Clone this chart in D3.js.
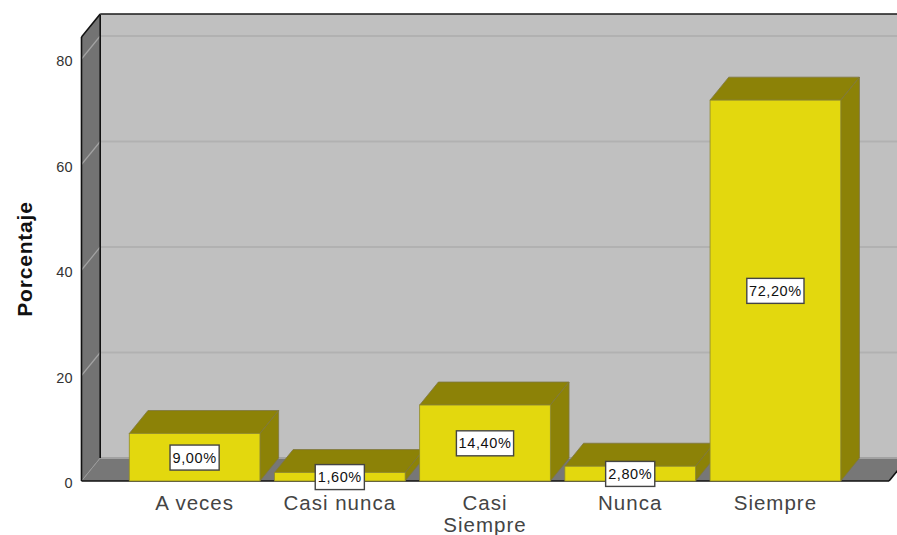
<!DOCTYPE html>
<html><head><meta charset="utf-8">
<script src="https://cdn.jsdelivr.net/npm/d3@7"></script>
<style>html,body{margin:0;padding:0;background:#fff;overflow:hidden}svg{display:block;font-family:"Liberation Sans",Arial,sans-serif}</style>
</head><body><svg id="c" width="897" height="535"></svg>
<script>
const categories=["A veces","Casi nunca","Casi Siempre","Nunca","Siempre"];
const categoryLines=[["A veces"],["Casi nunca"],["Casi","Siempre"],["Nunca"],["Siempre"]];
const values=[9.0,1.6,14.4,2.8,72.2];
const valueLabels=["9,00%","1,60%","14,40%","2,80%","72,20%"];
const yTicks=[0,20,40,60,80];
const yTitle="Porcentaje";

const svg=d3.select("#c");
const y=d3.scaleLinear().domain([0,84.17]).range([481,37]);
const x=d3.scaleBand().domain(categories).range([122,848]).paddingInner(0.1).paddingOuter(0.05);
const dx=18.7,dy=-23;
const L=81.5,R=889,B=y(0),T=y.range()[1];
const poly=(pts,fill,stroke,sw)=>svg.append("polygon").attr("points",pts.map(p=>p.join(",")).join(" ")).attr("fill",fill).attr("stroke",stroke||"none").attr("stroke-width",sw||0).attr("stroke-linejoin","round");
const line=(a,b,c,w)=>svg.append("line").attr("x1",a[0]).attr("y1",a[1]).attr("x2",b[0]).attr("y2",b[1]).attr("stroke",c).attr("stroke-width",w);

// back wall, left wall, floor
poly([[L+dx,T+dy],[R+dx,T+dy],[R+dx,B+dy],[L+dx,B+dy]],"#c0c0c0");
poly([[L,T],[L+dx,T+dy],[L+dx,B+dy],[L,B]],"#737373");
poly([[L,B],[L+dx,B+dy],[R+dx,B+dy],[R,B]],"#777777");

// gridlines
yTicks.forEach(t=>{
  if(t>0){
    line([L+dx,y(t)+dy],[R+dx,y(t)+dy],"#b1b1b1",2);
    line([L,y(t)],[L+dx,y(t)+dy],"#a3a3a3",1.2);
  }
});
line([L+dx,B+dy],[R+dx,B+dy],"#a2a2a2",2.2);
line([L,B],[L+dx,B+dy],"#9a9a9a",1);
line([L+dx,T+dy+1],[L+dx,B+dy],"#111",1.6);
line([L,T],[L,B],"#111",1.6);
line([L,T],[L+dx,T+dy],"#111",1.6);
line([L+dx,T+dy],[897,T+dy],"#1a1a1a",1.6);
line([L,B],[R,B],"#111",1.6);
line([R,B],[R+dx,B+dy],"#111",1.6);

// bars
categories.forEach((c,i)=>{
  const x0=x(c),x1=x0+x.bandwidth(),yt=y(values[i]);
  poly([[x0,yt],[x0+dx,yt+dy],[x1+dx,yt+dy],[x1,yt]],"#8c8207","#7d7640",0.8);
  poly([[x1,yt],[x1+dx,yt+dy],[x1+dx,B+dy],[x1,B]],"#8c8207","#7d7640",0.8);
  svg.append("rect").attr("x",x0).attr("y",yt).attr("width",x1-x0).attr("height",B-yt).attr("fill","#e3d80e").attr("stroke","#8f8a2c").attr("stroke-width",0.8);
});

// value labels
categories.forEach((c,i)=>{
  const cx=x(c)+x.bandwidth()/2,cy=(y(values[i])+B)/2+0.3;
  const g=svg.append("g");
  const r=g.append("rect");
  const t=g.append("text").attr("x",cx).attr("y",cy+5).attr("text-anchor","middle").attr("font-size",14.5).attr("fill","#111").text(valueLabels[i]);
  const w=t.node().getComputedTextLength()+8;
  t.attr("letter-spacing",0.6);
  r.attr("x",cx-w/2).attr("y",cy-12.5).attr("width",w).attr("height",25).attr("fill","#fff").attr("stroke","#444").attr("stroke-width",1.4);
});

// y axis labels
const yAxis=d3.axisLeft(y).tickValues(yTicks).tickSize(0).tickPadding(9);
const ga=svg.append("g").attr("transform",`translate(${L},2)`).call(yAxis);
ga.select(".domain").remove();
ga.selectAll("text").attr("font-family",'"Liberation Sans",Arial,sans-serif').attr("font-size",14.5).attr("fill","#333");

// category labels
categories.forEach((c,i)=>{
  const cx=x(c)+x.bandwidth()/2;
  categoryLines[i].forEach((s,j)=>{
    svg.append("text").attr("x",cx).attr("y",510+j*22).attr("text-anchor","middle").attr("font-size",20.5).attr("letter-spacing",1).attr("fill","#444").text(s);
  });
});

svg.append("text").attr("transform","translate(32,259) rotate(-90)").attr("text-anchor","middle").attr("font-size",21).attr("letter-spacing",0.8).attr("font-weight","bold").attr("fill","#111").text(yTitle);
</script></body></html>
